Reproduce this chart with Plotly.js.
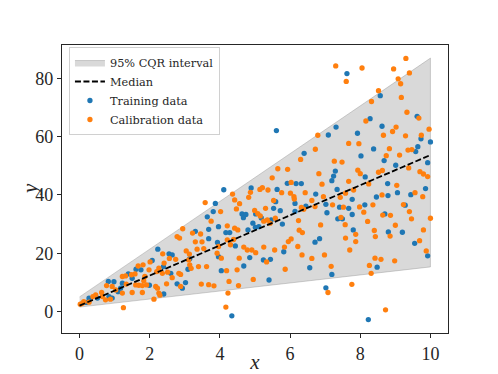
<!DOCTYPE html>
<html>
<head>
<meta charset="utf-8">
<script src="https://cdn.plot.ly/plotly-3.0.1.min.js"></script>
<style>
  html, body { margin: 0; padding: 0; background: #fff; }
  #chart { width: 498px; height: 374px; }
</style>
</head>
<body>
<div id="chart"></div>
<script>
// CQR band and median, linear in x
const bandX = [0, 10];
const bandLower = [1.5, 15.3];
const bandUpper = [5.0, 87.0];
const medianY = [2.0, 53.7];

// training points (blue)
const trainX = [7.62,8.57,8.28,7.31,7.09,7.92,8.62,9.62,9.73,10.0,5.61,
  8.38,9.64,9.58,8.02,8.68,9.01,7.29,7.24,7.19,8.14,9.92,6.73,8.78,7.34,7.77,8.79,8.46,9.06,9.86,9.44,7.02,7.41,7.67,8.13,8.70,9.28,7.05,7.36,7.49,7.77,7.80,8.80,9.20,6.84,6.71,9.55,9.92,8.48,7.19,7.02,8.23,
  6.40,4.11,3.87,4.89,5.63,5.92,6.17,6.32,3.81,3.64,3.30,3.68,4.63,4.74,4.67,5.02,5.18,5.53,5.59,5.72,5.46,6.14,6.45,6.14,3.96,4.17,4.28,4.94,5.01,5.11,4.80,5.78,3.68,3.93,3.96,4.44,5.82,4.85,5.24,5.44,3.09,4.04,4.68,6.56,5.40,4.34,
  2.23,2.55,2.64,3.14,1.75,1.61,2.07,2.39,2.60,1.39,1.50,0.82,0.98,1.99,2.78,2.93,3.02,1.22,1.17,1.10,2.40,0.27,0.19,0.51,0.84,0.93];
const trainY = [81.7,74.1,66.2,63.3,60.6,61.2,63.6,67.0,59.3,58.2,62.1,
  55.8,56.6,54.9,53.4,51.8,50.2,48.2,46.5,44.9,46.2,51.1,40.3,43.9,41.9,38.5,39.8,39.3,40.8,42.2,40.1,36.8,35.8,35.4,36.6,33.5,36.5,33.9,31.8,31.8,33.3,28.0,27.3,27.2,25.0,23.8,23.4,19.1,15.2,12.7,8.1,-2.8,
  54.3,41.8,37.1,42.4,41.9,44.0,43.9,43.9,34.3,32.5,27.5,28.2,33.5,33.3,32.2,33.5,32.1,35.4,37.7,34.6,31.4,37.1,36.2,34.4,29.1,27.1,27.1,30.3,28.9,29.1,28.0,30.0,25.0,23.7,18.8,22.5,20.5,18.5,17.7,17.9,14.5,14.0,15.6,15.0,10.8,-1.5,
  21.4,19.8,19.4,18.1,14.3,14.5,17.5,15.4,13.1,12.9,11.4,10.3,10.2,9.0,9.5,8.0,9.9,9.7,8.0,6.8,6.0,4.6,3.1,4.6,5.1,4.6];

// calibration points (orange)
const calibX = [7.30,8.05,8.95,9.30,9.40,9.08,9.15,7.60,8.52,9.17,8.32,9.33,9.67,8.16,9.02,8.92,8.66,9.29,9.96,9.74,6.79,7.67,7.96,
  6.72,8.83,9.36,9.47,8.74,9.12,7.26,7.48,7.93,8.00,6.82,8.24,8.52,8.63,9.38,9.70,9.80,9.92,6.91,7.67,9.04,7.81,7.58,7.43,6.95,8.62,9.56,9.78,6.71,7.21,
  7.52,7.98,8.10,8.36,8.64,8.86,9.23,9.40,10.0,7.45,6.87,7.57,8.21,8.85,9.00,9.46,9.80,8.40,8.43,7.58,7.87,7.87,9.69,7.70,6.98,9.88,8.42,8.59,8.98,8.26,8.31,7.17,7.08,7.76,8.72,
  6.30,5.65,5.93,5.49,4.36,3.58,4.87,5.14,5.21,5.37,5.76,6.03,6.43,6.01,6.11,4.82,4.42,4.56,4.47,4.02,3.75,4.99,5.08,5.15,5.30,5.53,5.35,5.58,6.12,6.32,
  6.39,6.62,4.21,4.42,4.51,5.25,5.43,6.24,6.26,6.35,3.22,3.45,3.30,3.49,3.54,3.35,4.21,4.39,3.96,3.92,4.04,4.30,4.68,4.78,4.91,5.02,5.25,5.56,5.84,5.95,
  6.03,6.22,4.55,5.33,6.34,6.62,3.11,3.14,3.18,3.39,3.62,4.19,4.49,5.86,3.47,3.68,3.83,4.26,4.53,4.95,4.23,4.17,
  2.94,2.78,2.85,2.37,2.56,2.74,3.04,3.13,1.67,1.81,1.98,2.01,2.41,2.26,2.20,2.36,2.51,2.64,2.83,2.88,1.58,1.48,1.86,1.22,1.31,0.77,0.93,1.60,1.69,1.79,
  1.91,1.83,2.17,2.22,2.48,2.88,1.33,1.03,1.22,1.50,1.79,2.26,2.29,0.63,0.65,0.46,0.38,0.27,0.12,0.08,0.02,0.74,0.88,2.12,1.25];
const calibY = [84.3,83.6,83.3,86.9,81.9,79.9,78.2,79.0,75.8,73.5,72.1,68.4,66.4,65.4,63.3,61.8,60.5,60.3,62.6,60.5,60.5,57.7,57.6,
  55.7,55.9,55.4,55.6,53.5,53.7,51.6,51.3,48.5,47.3,47.3,43.8,47.8,48.4,49.3,48.0,47.2,46.3,43.7,44.7,43.3,41.7,40.6,39.2,39.4,40.0,40.8,39.4,36.0,36.6,
  35.8,35.9,34.1,36.6,33.1,33.0,36.7,34.3,32.0,32.3,29.7,29.8,30.9,25.9,29.6,31.8,28.0,27.8,25.7,25.2,26.5,24.0,24.3,21.1,19.4,20.8,18.3,17.9,17.4,15.8,13.1,15.5,6.5,9.3,0.55,
  52.2,49.0,48.8,45.9,40.3,37.4,40.9,41.9,42.5,41.7,40.8,44.3,40.8,40.6,39.4,39.2,38.3,37.0,35.2,34.3,31.0,34.7,33.6,32.8,35.4,38.1,31.4,32.0,38.6,35.7,
  35.1,38.1,29.4,28.6,28.0,31.0,30.3,31.2,27.9,27.1,26.9,26.6,23.9,23.9,21.6,21.4,24.6,24.7,22.3,20.0,18.3,22.9,22.1,21.1,21.1,20.2,22.1,21.1,22.1,24.0,
  24.9,22.3,18.3,17.0,19.4,18.2,17.7,16.0,14.8,15.4,15.4,14.0,14.3,14.5,9.4,9.2,8.8,10.3,8.9,11.0,6.3,1.5,
  28.4,25.7,25.2,19.8,18.2,17.9,20.8,19.7,15.6,16.0,14.3,17.0,16.6,14.9,13.7,13.1,13.5,11.6,13.1,12.7,12.9,12.6,12.0,12.0,12.2,8.9,8.6,9.1,9.0,8.9,
  9.1,10.5,8.6,8.0,9.5,8.6,9.4,7.4,6.3,6.5,6.5,6.3,5.6,6.5,5.1,5.7,5.1,3.2,3.4,2.8,2.5,4.0,4.2,4.2,1.3];

const FONT = "'Liberation Serif', 'DejaVu Serif', serif";
const LEGEND_FONT = "'DejaVu Serif', serif";

// closed polygon for the interval
const polyX = bandX.concat(bandX.slice().reverse());
const polyY = bandLower.concat(bandUpper.slice().reverse());

const traces = [
  {
    x: polyX, y: polyY,
    type: 'scatter', mode: 'lines',
    fill: 'toself',
    fillcolor: 'rgba(128,128,128,0.3)',
    line: {color: 'rgba(128,128,128,0.35)', width: 1},
    name: '95% CQR interval',
    legendrank: 1,
    hoverinfo: 'skip'
  },
  {
    x: trainX, y: trainY,
    type: 'scatter', mode: 'markers',
    marker: {color: '#1f77b4', size: 5.3},
    name: 'Training data',
    legendrank: 3
  },
  {
    x: calibX, y: calibY,
    type: 'scatter', mode: 'markers',
    marker: {color: '#ff7f0e', size: 5.3},
    name: 'Calibration data',
    legendrank: 4
  },
  {
    x: bandX, y: medianY,
    type: 'scatter', mode: 'lines',
    line: {color: 'black', width: 1.8, dash: '6px,2.5px'},
    name: 'Median',
    legendrank: 2
  }
];

const axisCommon = {
  showline: true, mirror: true, linecolor: '#262626', linewidth: 1.2,
  ticks: 'outside', ticklen: 4, tickwidth: 1, tickcolor: '#262626',
  showgrid: false, zeroline: false,
  tickfont: {family: FONT, size: 18, color: '#262626'}
};

const layout = {
  width: 498, height: 374,
  margin: {l: 62, r: 50, t: 45, b: 41},
  paper_bgcolor: 'white', plot_bgcolor: 'white',
  showlegend: true,
  legend: {
    x: 0.018, y: 0.993, xanchor: 'left', yanchor: 'top',
    bgcolor: 'rgba(255,255,255,0.8)', bordercolor: '#d0d0d0', borderwidth: 1,
    font: {family: LEGEND_FONT, size: 11.3, color: '#262626'},
    itemwidth: 30,
    tracegroupgap: 0
  },
  xaxis: Object.assign({}, axisCommon, {
    range: [-0.5, 10.5], tick0: 0, dtick: 2,
    title: {text: '<i>x</i>', font: {family: FONT, size: 21, color: '#262626'}, standoff: 13}
  }),
  yaxis: Object.assign({}, axisCommon, {
    range: [-7.4, 91.5], tick0: 0, dtick: 20
  }),
  // y label placed as annotation so it can sit closer to the tick labels
  annotations: [{
    text: '<i>y</i>', xref: 'paper', yref: 'paper',
    x: -0.083, y: 0.5, xanchor: 'center', yanchor: 'middle',
    textangle: -90, showarrow: false,
    font: {family: FONT, size: 21, color: '#262626'}
  }]
};

Plotly.newPlot('chart', traces, layout, {displayModeBar: false, staticPlot: true});
</script>
</body>
</html>
